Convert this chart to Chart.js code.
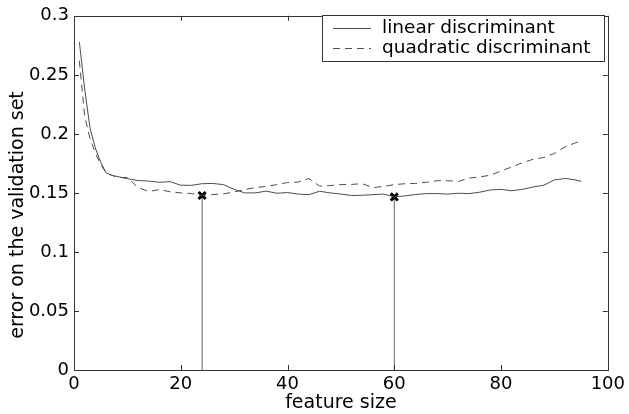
<!DOCTYPE html>
<html>
<head>
<meta charset="utf-8">
<script src="https://cdn.jsdelivr.net/npm/chart.js@4.4.0/dist/chart.umd.min.js"></script>
<style>
html, body { margin: 0; padding: 0; background: #fff; }
#wrap { width: 629px; height: 414px; }
</style>
</head>
<body>
<div id="wrap"><canvas id="errChart" width="629" height="414"></canvas></div>
<script>
// feature size on x, validation error for each classifier
const featureSize = [1, 2, 3, 4, 5, 6, 7, 8, 9, 10, 12, 14, 16, 18, 20, 22, 24, 26, 28, 30,
    32, 34, 36, 38, 40, 42, 44, 46, 48, 50, 52, 54, 56, 58, 60, 62, 64, 66, 68, 70,
    72, 74, 76, 78, 80, 82, 84, 86, 88, 90, 92, 94, 95];
const linearErr = [0.278, 0.238, 0.205, 0.188, 0.176, 0.167, 0.165, 0.164, 0.163, 0.162,
    0.1605, 0.160, 0.159, 0.1595, 0.1565, 0.1564, 0.1578, 0.158, 0.157, 0.153,
    0.150, 0.150, 0.1515, 0.1497, 0.1503, 0.149, 0.1485, 0.1514, 0.150, 0.149,
    0.1478, 0.148, 0.1485, 0.149, 0.1466, 0.1475, 0.1486, 0.1494, 0.1494, 0.149,
    0.1497, 0.1494, 0.1506, 0.1525, 0.153, 0.1518, 0.153, 0.155, 0.1565, 0.161,
    0.1622, 0.161, 0.1597];
const quadErr = [0.262, 0.215, 0.196, 0.184, 0.174, 0.167, 0.165, 0.1635, 0.163, 0.163,
    0.1545, 0.1512, 0.1528, 0.151, 0.150, 0.1494, 0.1478, 0.1486, 0.1492, 0.1508,
    0.1528, 0.1545, 0.1555, 0.157, 0.1588, 0.1592, 0.1622, 0.1558, 0.1562, 0.157,
    0.1572, 0.1578, 0.1545, 0.1555, 0.157, 0.1578, 0.158, 0.159, 0.1603, 0.1603,
    0.1597, 0.1625, 0.1635, 0.165, 0.1685, 0.172, 0.1755, 0.1785, 0.180, 0.1835,
    0.189, 0.1925, 0.194];
// minima marked with a cross and a drop line
const optSize = [24, 60];
const optErr = [0.1478, 0.1466];
const xTicks = [0, 20, 40, 60, 80, 100];
const yTicks = [0, 0.05, 0.1, 0.15, 0.2, 0.25, 0.3];
const yTickLabels = ['0', '0.05', '0.1', '0.15', '0.2', '0.25', '0.3'];
const seriesNames = ['linear discriminant', 'quadratic discriminant'];
const yTitle = 'error on the validation set';

const FONT = 'DejaVu Sans';
const lineColor = '#4d4d4d';

function pts(xs, ys) {
    return xs.map(function(x, i) { return {x: x, y: ys[i]}; });
}

const datasets = [{
    label: seriesNames[0],
    data: pts(featureSize, linearErr),
    borderColor: lineColor,
    borderWidth: 1,
    pointRadius: 0,
    tension: 0
}, {
    label: seriesNames[1],
    data: pts(featureSize, quadErr),
    borderColor: lineColor,
    borderWidth: 1,
    borderDash: [7, 5],
    pointRadius: 0,
    tension: 0
}];
optSize.forEach(function(s, i) {
    datasets.push({
        label: 'opt' + i,
        data: [{x: s, y: 0}, {x: s, y: optErr[i]}],
        borderColor: '#666',
        borderWidth: 1,
        pointRadius: [0, 5],
        pointStyle: 'crossRot',
        pointBorderColor: '#000',
        pointBorderWidth: 3
    });
});

// box round the plot with inward ticks on all four sides, matlab style
const boxTicks = {
    id: 'boxTicks',
    afterDraw: function(chart) {
        const ctx = chart.ctx, a = chart.chartArea;
        const xs = chart.scales.x, ys = chart.scales.y;
        ctx.save();
        ctx.strokeStyle = '#333';
        ctx.lineWidth = 1;
        ctx.setLineDash([]);
        ctx.strokeRect(Math.round(a.left) + 0.5, Math.round(a.top) + 0.5,
            Math.round(a.right - a.left), Math.round(a.bottom - a.top));
        ctx.beginPath();
        xTicks.forEach(function(v) {
            const px = Math.round(xs.getPixelForValue(v)) + 0.5;
            ctx.moveTo(px, a.bottom); ctx.lineTo(px, a.bottom - 5);
            ctx.moveTo(px, a.top); ctx.lineTo(px, a.top + 5);
        });
        yTicks.forEach(function(v) {
            const py = Math.round(ys.getPixelForValue(v)) + 0.5;
            ctx.moveTo(a.left, py); ctx.lineTo(a.left + 5, py);
            ctx.moveTo(a.right, py); ctx.lineTo(a.right - 5, py);
        });
        ctx.stroke();

        // y title sits a bit below the middle in the original
        ctx.save();
        ctx.translate(18.5, 215);
        ctx.rotate(-Math.PI / 2);
        ctx.font = '19px "' + FONT + '"';
        ctx.fillStyle = '#000';
        ctx.textAlign = 'center';
        ctx.textBaseline = 'middle';
        ctx.fillText(yTitle, 0, 0);
        ctx.restore();

        // legend
        const lx = 322.5, ly = 15.5, lw = 282, lh = 46;
        ctx.fillStyle = '#fff';
        ctx.fillRect(lx, ly, lw, lh);
        ctx.strokeStyle = '#333';
        ctx.strokeRect(lx, ly, lw, lh);
        ctx.font = '18.5px "' + FONT + '"';
        ctx.textBaseline = 'middle';
        ctx.textAlign = 'left';
        [0, 1].forEach(function(i) {
            const ds = chart.data.datasets[i];
            const yy = 28.5 + i * 20;
            ctx.strokeStyle = ds.borderColor;
            ctx.setLineDash(ds.borderDash || []);
            ctx.beginPath();
            ctx.moveTo(333, yy); ctx.lineTo(371, yy);
            ctx.stroke();
            ctx.setLineDash([]);
            ctx.fillStyle = '#000';
            ctx.fillText(ds.label, 382, yy);
        });
        ctx.restore();
    }
};

const ctx = document.getElementById('errChart').getContext('2d');
const errChart = new Chart(ctx, {
    type: 'line',
    data: { datasets: datasets },
    plugins: [boxTicks],
    options: {
        responsive: false,
        animation: false,
        devicePixelRatio: 1,
        layout: { padding: { left: 0, right: 20, top: 10, bottom: 0 } },
        plugins: {
            legend: { display: false },
            tooltip: { enabled: false }
        },
        scales: {
            x: {
                type: 'linear',
                min: 0,
                max: 100,
                grid: { display: false, drawTicks: false },
                border: { display: false },
                ticks: {
                    stepSize: 20,
                    padding: 4,
                    color: '#000',
                    font: { family: FONT, size: 18 }
                },
                title: {
                    display: true,
                    text: 'feature size',
                    color: '#000',
                    font: { family: FONT, size: 19 },
                    padding: { top: 0, bottom: 0 }
                },
                afterFit: function(scale) { scale.height = 44; }
            },
            y: {
                min: 0,
                max: 0.3,
                grid: { display: false, drawTicks: false },
                border: { display: false },
                ticks: {
                    stepSize: 0.05,
                    padding: 5,
                    color: '#000',
                    font: { family: FONT, size: 18 },
                    callback: function(v, i) { return yTickLabels[i]; }
                },
                afterFit: function(scale) { scale.width = 74; }
            }
        }
    }
});
</script>
</body>
</html>
